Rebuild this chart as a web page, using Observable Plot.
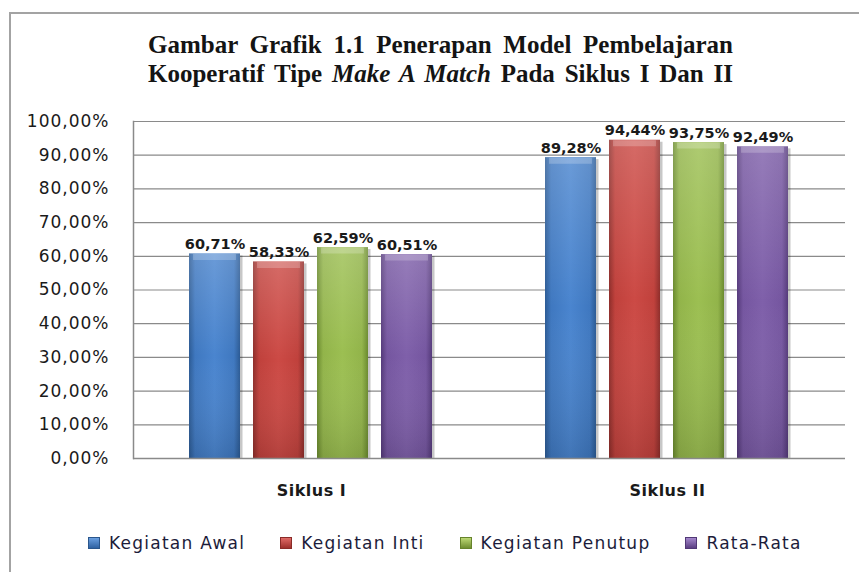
<!DOCTYPE html>
<html>
<head>
<meta charset="utf-8">
<script src="https://cdn.jsdelivr.net/npm/d3@7"></script>
<script src="https://cdn.jsdelivr.net/npm/@observablehq/plot@0.6"></script>
<style>
  html, body { margin: 0; padding: 0; background: #fff; width: 859px; height: 572px; overflow: hidden; }
  #wrap { position: relative; width: 859px; height: 572px; overflow: hidden; }
  #box { position: absolute; left: 9px; top: 12px; width: 900px; height: 620px; border: 2px solid #a3a3a3; box-sizing: border-box; }
  #title { position: absolute; left: 148px; top: 30px; width: 585px; font: bold 25px "Liberation Serif", "Times New Roman", serif; line-height: 29px; color: #141414; }
  #title .ln { text-align: justify; text-align-last: justify; white-space: nowrap; }
  #chart { position: absolute; left: 0; top: 100px; }
  #legend { position: absolute; left: 88px; top: 533px; display: flex; align-items: center; font: 17px "DejaVu Sans", sans-serif; letter-spacing: 1.25px; color: #1c1c3a; line-height: 20px; }
  #legend .item { display: flex; align-items: center; margin-right: 35px; }
  #legend .sw { width: 12px; height: 12px; margin-right: 9px; box-sizing: border-box; }
  svg [aria-label="y-axis tick label"] text { letter-spacing: 1px; }
  svg [aria-label="fx-axis tick label"] text { letter-spacing: 0.5px; }
</style>
</head>
<body>
<svg width="0" height="0" style="position:absolute">
  <defs>
    <linearGradient id="gBlue" x1="0" x2="1" y1="0" y2="0">
      <stop offset="0" stop-color="#2b5a94"/><stop offset="0.12" stop-color="#3f78c0"/>
      <stop offset="0.5" stop-color="#4a85cf"/><stop offset="0.88" stop-color="#3f78c0"/><stop offset="1" stop-color="#2b5a94"/>
    </linearGradient>
    <linearGradient id="gRed" x1="0" x2="1" y1="0" y2="0">
      <stop offset="0" stop-color="#8e2d2a"/><stop offset="0.12" stop-color="#c0413c"/>
      <stop offset="0.5" stop-color="#cc4a45"/><stop offset="0.88" stop-color="#c0413c"/><stop offset="1" stop-color="#8e2d2a"/>
    </linearGradient>
    <linearGradient id="gGreen" x1="0" x2="1" y1="0" y2="0">
      <stop offset="0" stop-color="#6a8a2e"/><stop offset="0.12" stop-color="#92b44a"/>
      <stop offset="0.5" stop-color="#9cbf52"/><stop offset="0.88" stop-color="#92b44a"/><stop offset="1" stop-color="#6a8a2e"/>
    </linearGradient>
    <linearGradient id="gPurple" x1="0" x2="1" y1="0" y2="0">
      <stop offset="0" stop-color="#54397a"/><stop offset="0.12" stop-color="#7556a0"/>
      <stop offset="0.5" stop-color="#7f60aa"/><stop offset="0.88" stop-color="#7556a0"/><stop offset="1" stop-color="#54397a"/>
    </linearGradient>
    <linearGradient id="gShade" x1="0" x2="0" y1="0" y2="1">
      <stop offset="0" stop-color="#ffffff" stop-opacity="0.18"/>
      <stop offset="0.5" stop-color="#ffffff" stop-opacity="0"/>
      <stop offset="1" stop-color="#000000" stop-opacity="0.12"/>
    </linearGradient>
  </defs>
</svg>
<div id="wrap">
  <div id="box"></div>
  <div id="title">
    <div class="ln">Gambar  Grafik 1.1 Penerapan  Model  Pembelajaran</div>
    <div class="ln">Kooperatif  Tipe <i>Make A Match</i> Pada  Siklus I Dan II</div>
  </div>
  <div id="chart"></div>
  <div id="legend"></div>
</div>
<script>
// ---- data ----
const categories = ["Siklus I", "Siklus II"];
const series = ["Kegiatan Awal", "Kegiatan Inti", "Kegiatan Penutup", "Rata-Rata"];
const siklusI = [60.71, 58.33, 62.59, 60.51];
const siklusII = [89.28, 94.44, 93.75, 92.49];
const yTicks = [0, 10, 20, 30, 40, 50, 60, 70, 80, 90, 100];

// ---- styles ----
const gradients = ["url(#gBlue)", "url(#gRed)", "url(#gGreen)", "url(#gPurple)"];
const swatches = [
  "linear-gradient(#6a9fe0, #2f62a2)",
  "linear-gradient(#e06a66, #9e302c)",
  "linear-gradient(#bcd874, #6f8e30)",
  "linear-gradient(#a487cc, #5b3f82)"
];
const swBorder = ["#2a568c", "#8a2b28", "#66832c", "#513876"];

const valuesBy = [siklusI, siklusII];
const data = categories.flatMap((c, i) =>
  series.map((s, j) => ({ siklus: c, series: s, value: valuesBy[i][j] }))
);
const fmt = v => v.toFixed(2).replace(".", ",") + "%";

const chart = Plot.plot({
  width: 859,
  height: 410,
  marginLeft: 132,
  marginRight: 14,
  marginTop: 21,
  marginBottom: 52,
  style: { fontFamily: "DejaVu Sans, sans-serif", background: "transparent", color: "#1a1a1a" },
  fx: { domain: categories, padding: 0, label: null },
  x: { domain: series, paddingInner: 0.2, paddingOuter: 0.855, axis: null },
  y: { domain: [0, 100], label: null },
  color: { domain: series, range: gradients },
  marks: [
    Plot.gridY(yTicks.filter(d => d > 0), { stroke: "#8a8a8a", strokeOpacity: 1, strokeWidth: 1.2 }),
    Plot.barY(data, { fx: "siklus", x: "series", y: "value", fill: "#000", fillOpacity: 0.22, dx: 2.5, insetTop: 2 }),
    Plot.barY(data, { fx: "siklus", x: "series", y: "value", fill: "series" }),
    Plot.barY(data, { fx: "siklus", x: "series", y: "value", fill: "url(#gShade)" }),
    Plot.tickY(data, { fx: "siklus", x: "series", y: "value", stroke: "#ffffff", strokeOpacity: 0.22, strokeWidth: 6, dy: 3, insetLeft: 4, insetRight: 4 }),
    Plot.ruleY([0], { stroke: "#8a8a8a", strokeWidth: 1.5 }),
    Plot.frame({ anchor: "left", facet: "super", stroke: "#8a8a8a", strokeWidth: 1.5 }),
    Plot.text(data, {
      fx: "siklus", x: "series", y: "value", text: d => fmt(d.value),
      lineAnchor: "bottom", dy: -5, fontSize: 14.5, fontWeight: "bold", fill: "#1a1a1a"
    }),
    Plot.axisY({ ticks: yTicks, tickFormat: fmt, tickSize: 0, tickPadding: 24, fontSize: 17, fill: "#1a1a1a", label: null }),
    Plot.axisFx({ anchor: "bottom", tickSize: 0, tickPadding: 26, fontSize: 16, fontWeight: "bold", fill: "#1a1a1a", label: null })
  ]
});
document.getElementById("chart").appendChild(chart);

// ---- legend ----
const legend = document.getElementById("legend");
series.forEach((s, i) => {
  const item = document.createElement("div");
  item.className = "item";
  const sw = document.createElement("span");
  sw.className = "sw";
  sw.style.background = swatches[i];
  sw.style.border = "1px solid " + swBorder[i];
  const t = document.createElement("span");
  t.textContent = s;
  item.appendChild(sw);
  item.appendChild(t);
  legend.appendChild(item);
});
</script>
</body>
</html>
